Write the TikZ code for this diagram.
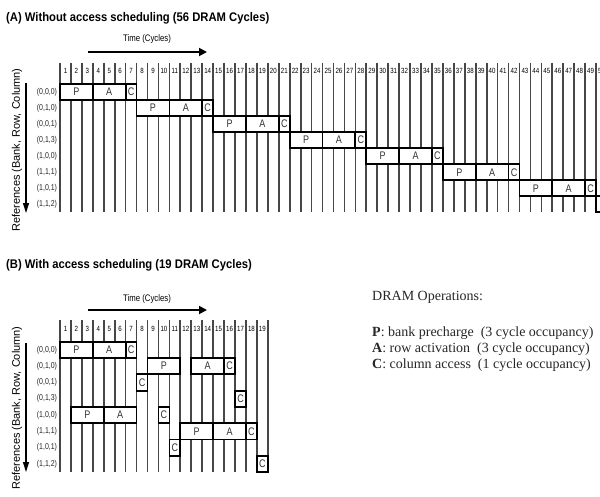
\documentclass[tikz,border=0pt]{standalone}
\usepackage{fontspec}
\setmainfont{Liberation Serif}
\setsansfont{Liberation Sans}
\newfontfamily\narrowsf[FakeStretch=0.82]{Liberation Sans}
\newfontfamily\headsf[FakeStretch=0.9]{Liberation Sans}
\usetikzlibrary{arrows.meta,positioning}

\tikzset{
  cycline/.style={black!72,line width=1.7pt},
  opbox/.style={draw=black,fill=white,line width=1.8pt},
  oplabel/.style={font=\narrowsf\fontsize{11}{12}\selectfont,text=black!80,inner sep=0pt},
  numlabel/.style={font=\narrowsf\fontsize{7.5}{9}\selectfont,inner sep=0pt},
  reflabel/.style={font=\narrowsf\fontsize{8.5}{9}\selectfont,text=black!85,anchor=east,inner sep=0pt},
  headline/.style={font=\headsf\bfseries\fontsize{12.5}{14}\selectfont,anchor=west,inner sep=0pt},
  timelabel/.style={font=\narrowsf\fontsize{9.5}{11}\selectfont,inner sep=0pt},
  axislabel/.style={font=\sffamily\fontsize{11}{13}\selectfont,rotate=90,inner sep=0pt},
  legendtext/.style={font=\fontsize{14}{16}\selectfont,text=black!85,anchor=west,inner sep=0pt},
  timearrow/.style={-{Triangle[length=8pt,width=8pt]},line width=1.8pt},
  refarrow/.style={-{Triangle[length=10pt,width=6pt]},line width=1.5pt},
}

\begin{document}
\begin{tikzpicture}[x=1pt,y=-1pt]
  \useasboundingbox (0,0) rectangle (600,496);
  \clip (0,0) rectangle (600,496);

  % ---- (A) without access scheduling ----
  \node[headline] (titleA) at (6,18) {(A) Without access scheduling (56 DRAM Cycles)};
  \node[timelabel] (timeA) at (147,39) {Time (Cycles)};
  \coordinate (timeAs) at (88,52);
  \coordinate (timeAe) at (207,52);
  \draw[timearrow] (timeAs) -- (timeAe);
  \node[axislabel] (refA) at (17,150) {References (Bank, Row, Column)};
  \coordinate (refAs) at (26,83);
  \coordinate (refAe) at (26,213);
  \draw[refarrow] (refAs) -- (refAe);
  \begin{scope}[shift={(60,84)},x=10.94pt,y=-16.04pt]
    % cycle lines and cycle numbers
    \foreach \c in {0,...,55}
      \draw[cycline] (\c,-1.33) -- (\c,8);
    \foreach \c in {1,...,50}
      \node[numlabel] (nA\c) at (\c-0.5,-0.8) {\c};
    % references (bank,row,column)
    \foreach \r/\lab in {0/{(0,0,0)},1/{(0,1,0)},2/{(0,0,1)},3/{(0,1,3)},
                         4/{(1,0,0)},5/{(1,1,1)},6/{(1,0,1)},7/{(1,1,2)}}
      \node[reflabel] (rA\r) at (-0.25,\r+0.5) {\lab};
    % one P-A-C after the other, 7 cycles each
    \foreach \r in {0,...,7} {
      \draw[opbox] (7*\r,\r) rectangle ++(3,1);
      \draw[opbox] (7*\r+3,\r) rectangle ++(3,1);
      \draw[opbox] (7*\r+6,\r) rectangle ++(1,1);
    }
    % the last one runs off the page, so no letters there
    \foreach \r in {0,...,6} {
      \node[oplabel] (pA\r) at (7*\r+1.5,\r+0.5) {P};
      \node[oplabel] (aA\r) at (7*\r+4.5,\r+0.5) {A};
      \node[oplabel] (cA\r) at (7*\r+6.5,\r+0.5) {C};
    }
  \end{scope}

  % ---- (B) with access scheduling ----
  \node[headline] (titleB) at (6,265) {(B) With access scheduling (19 DRAM Cycles)};
  \node[timelabel] (timeB) at (147,299) {Time (Cycles)};
  \coordinate (timeBs) at (88,310);
  \coordinate (timeBe) at (207,310);
  \draw[timearrow] (timeBs) -- (timeBe);
  \node[axislabel] (refB) at (17,408) {References (Bank, Row, Column)};
  \coordinate (refBs) at (26,343);
  \coordinate (refBe) at (26,472);
  \draw[refarrow] (refBs) -- (refBe);
  \begin{scope}[shift={(60,341.7)},x=10.94pt,y=-16.3pt]
    \foreach \c in {0,...,19}
      \draw[cycline] (\c,-1.33) -- (\c,8);
    \foreach \c in {1,...,19}
      \node[numlabel] (nB\c) at (\c-0.5,-0.8) {\c};
    \foreach \r/\lab in {0/{(0,0,0)},1/{(0,1,0)},2/{(0,0,1)},3/{(0,1,3)},
                         4/{(1,0,0)},5/{(1,1,1)},6/{(1,0,1)},7/{(1,1,2)}}
      \node[reflabel] (rB\r) at (-0.25,\r+0.5) {\lab};
    % start/end cycle, row, operation
    \foreach \s/\e/\r/\op in {0/3/0/P,3/6/0/A,6/7/0/C,
                              8/11/1/P,12/15/1/A,15/16/1/C,
                              7/8/2/C,16/17/3/C,
                              1/4/4/P,4/7/4/A,9/10/4/C,
                              11/14/5/P,14/17/5/A,17/18/5/C,
                              10/11/6/C,18/19/7/C} {
      \draw[opbox] (\s,\r) rectangle (\e,\r+1);
      \node[oplabel] (opB\s-\r) at ({(\s+\e)/2},\r+0.5) {\op};
    }
  \end{scope}

  % ---- legend ----
  \node[legendtext] (legtitle) at (372,297) {DRAM Operations:};
  \node[legendtext] (legP) at (372,333) {\textbf{P}: bank precharge\ \ (3 cycle occupancy)};
  \node[legendtext] (legA) at (372,349) {\textbf{A}: row activation\ \ (3 cycle occupancy)};
  \node[legendtext] (legC) at (372,365) {\textbf{C}: column access\ \ (1 cycle occupancy)};
\end{tikzpicture}
\end{document}
